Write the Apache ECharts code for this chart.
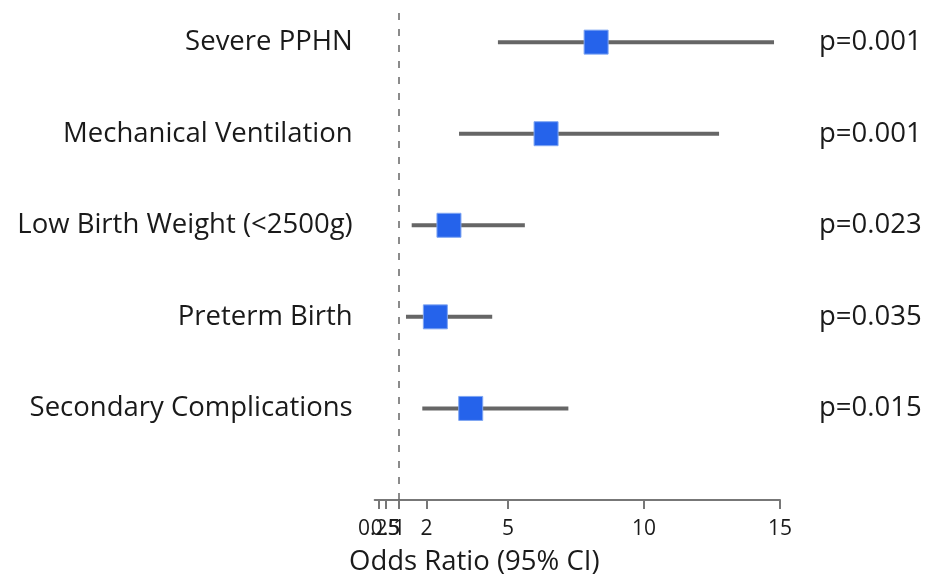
<!DOCTYPE html>
<html><head><meta charset="utf-8">
<script src="https://cdn.jsdelivr.net/npm/echarts@6/dist/echarts.min.js"></script>
<style>html,body{margin:0;padding:0;background:#fff}#c{width:927px;height:575px}</style>
</head><body><div id="c"></div>
<script>
const categories = ["Severe PPHN","Mechanical Ventilation","Low Birth Weight (<2500g)","Preterm Birth","Secondary Complications"];
const oddsRatio = [8.24, 6.4, 2.83, 2.33, 3.63];
const ciLow = [4.63, 3.2, 1.46, 1.25, 1.85];
const ciHigh = [14.78, 12.76, 5.62, 4.42, 7.22];
const pValues = ["p=0.001","p=0.001","p=0.023","p=0.035","p=0.015"];
const xTicks = [0.1, 0.25, 0.5, 1, 2, 5, 10, 15];
const xTickLabels = ["0.1","0.25","0.5","1","2","5","10","15"];

const n = categories.length;
const rowPos = categories.map((_, i) => n - i);
const font = '"Open Sans", "Noto Sans", sans-serif';
const txt = '#1a1a1a';

const chart = echarts.init(document.getElementById('c'), null, {renderer:'canvas'});
chart.setOption({
  animation:false,
  grid:{left:374.7, right:147, top:11, bottom:75, containLabel:false},
  xAxis:{type:'value', min:0.1, max:15,
    axisLine:{show:true, lineStyle:{color:'#777', width:2}},
    axisTick:{show:true, length:9, lineStyle:{color:'#777', width:2}, customValues:xTicks},
    axisLabel:{customValues:xTicks, formatter:v=>{const i=xTicks.indexOf(v);return i>=0?xTickLabels[i]:'';},
      color:txt, fontSize:21, fontFamily:font, margin:19},
    splitLine:{show:false}},
  yAxis:[{type:'value', min:0, max:5.34, position:'left',
    axisLine:{show:false}, axisTick:{show:false}, splitLine:{show:false},
    axisLabel:{customValues:rowPos, formatter:v=>categories[n - v], color:txt, fontSize:27.5, fontFamily:font, margin:22}},
   {type:'value', min:0, max:5.34, position:'right',
    axisLine:{show:false}, axisTick:{show:false}, splitLine:{show:false},
    axisLabel:{customValues:rowPos, formatter:v=>pValues[n - v], color:txt, fontSize:27.5, fontFamily:font, margin:39, align:'left'}}],
  graphic:[{type:'text', left:349, top:548, style:{text:'Odds Ratio (95% CI)', fill:txt, font:'27.5px '+font}}],
  series:[
    {type:'custom', data:categories.map((c,i)=>[ciLow[i], ciHigh[i], rowPos[i]]),
     renderItem:(params, api)=>{
       const a=api.coord([api.value(0), api.value(2)]);
       const b=api.coord([api.value(1), api.value(2)]);
       return {type:'line', shape:{x1:a[0],y1:a[1],x2:b[0],y2:b[1]}, style:{stroke:'#666', lineWidth:4}};
     },
     markLine:{silent:true, symbol:'none', label:{show:false},
       lineStyle:{color:'#666', type:[7,9], width:1.5}, data:[{xAxis:1}]}},
    {type:'scatter', symbol:'rect', symbolSize:24, z:5,
     data:categories.map((c,i)=>[oddsRatio[i], rowPos[i]]),
     itemStyle:{color:'#2563eb', borderColor:'#7fa6f2', borderWidth:1, opacity:1}}
  ]
});
</script></body></html>
